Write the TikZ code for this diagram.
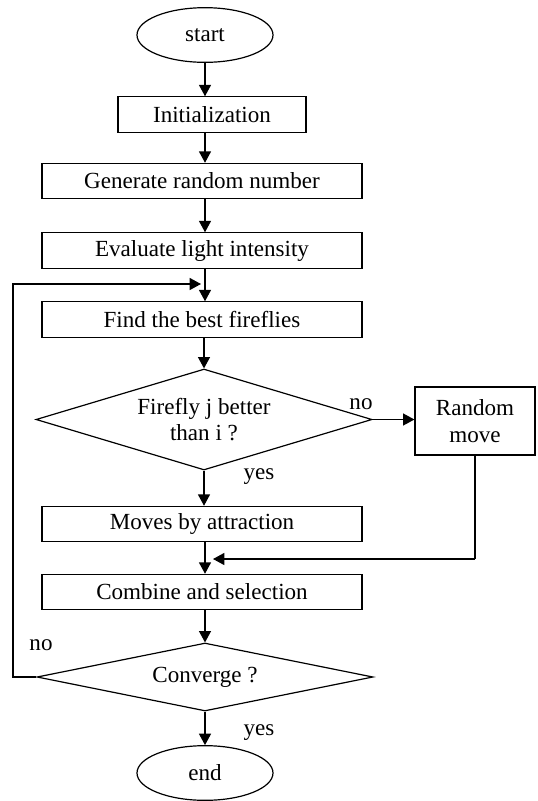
\documentclass[tikz,border=0pt]{standalone}
\usepackage{fontspec}
\setmainfont{Liberation Serif}
\usetikzlibrary{arrows.meta, shapes.geometric, positioning}

\begin{document}
\begin{tikzpicture}[x=0.75pt,y=-0.75pt,line width=0.9pt,font=\fontsize{17.3}{20}\selectfont]
  \tikzstyle{etape} = [rectangle,draw,minimum width=240pt,minimum height=26.5pt,inner sep=0pt]
  \tikzstyle{borne} = [ellipse,draw,minimum width=102pt,minimum height=41pt,inner sep=0pt]
  \tikzstyle{test} = [diamond,draw,aspect=3.3,inner sep=0pt,align=center,minimum width=252pt]
  \tikzstyle{fleche} = [-{Triangle[length=8.5pt,width=9pt]}]
  \tikzstyle{lab} = [inner sep=0pt]
  \useasboundingbox (0,0) rectangle (538,801);
  \node[borne] at (205,35) (ST) {start};
  \node[etape,minimum width=141pt] at (212,114.5) (INI) {Initialization};
  \node[etape] at (202,181) (GEN) {Generate random number};
  \node[etape] at (202,250.5) (EVA) {Evaluate light intensity};
  \node[etape] at (202,319.5) (FIND) {Find the best fireflies};
  \node[test,minimum height=75.75pt] at (204,419.5) (FJ) {Firefly j better\\than i ?};
  \node[rectangle,draw,minimum width=90pt,minimum height=51pt,inner sep=0pt,align=center] at (475,421) (RM) {Random\\move};
  \node[etape] at (202,524) (MOV) {Moves by attraction};
  \node[etape] at (202,592) (COMB) {Combine and selection};
  \node[test,minimum height=51pt] at (205,677) (CONV) {Converge ?};
  \node[borne] at (205,773) (END) {end};
  \node[lab] at (361,404) (NO1) {no};
  \node[lab] at (259,477) (YES1) {yes};
  \node[lab] at (41,645) (NO2) {no};
  \node[lab] at (259,733) (YES2) {yes};
  \coordinate (J) at (213,559);
  \coordinate (K) at (13,284);
  \coordinate (L) at (201,284);
  \draw[fleche] (ST) -- (ST |- INI.north);
  \draw[fleche] (INI.south -| ST) -- (ST |- GEN.north);
  \draw[fleche] (GEN.south -| ST) -- (ST |- EVA.north);
  \draw[fleche] (EVA.south -| ST) -- (ST |- FIND.north);
  \draw[fleche] (FIND.south -| FJ) -- (FJ);
  \draw[fleche] (FJ.east) -- (FJ.east -| RM.west);
  \draw[fleche] (FJ) -- (FJ |- MOV.north);
  \draw (RM) |- (J -| RM);
  \draw[fleche] (J -| RM) -- (J);
  \draw[fleche] (MOV.south -| CONV) -- (CONV |- COMB.north);
  \draw[fleche] (COMB.south -| CONV) -- (CONV);
  \draw[fleche] (CONV) -- (END);
  \draw[fleche] (CONV.west) -| (K) -- (L);
\end{tikzpicture}
\end{document}
